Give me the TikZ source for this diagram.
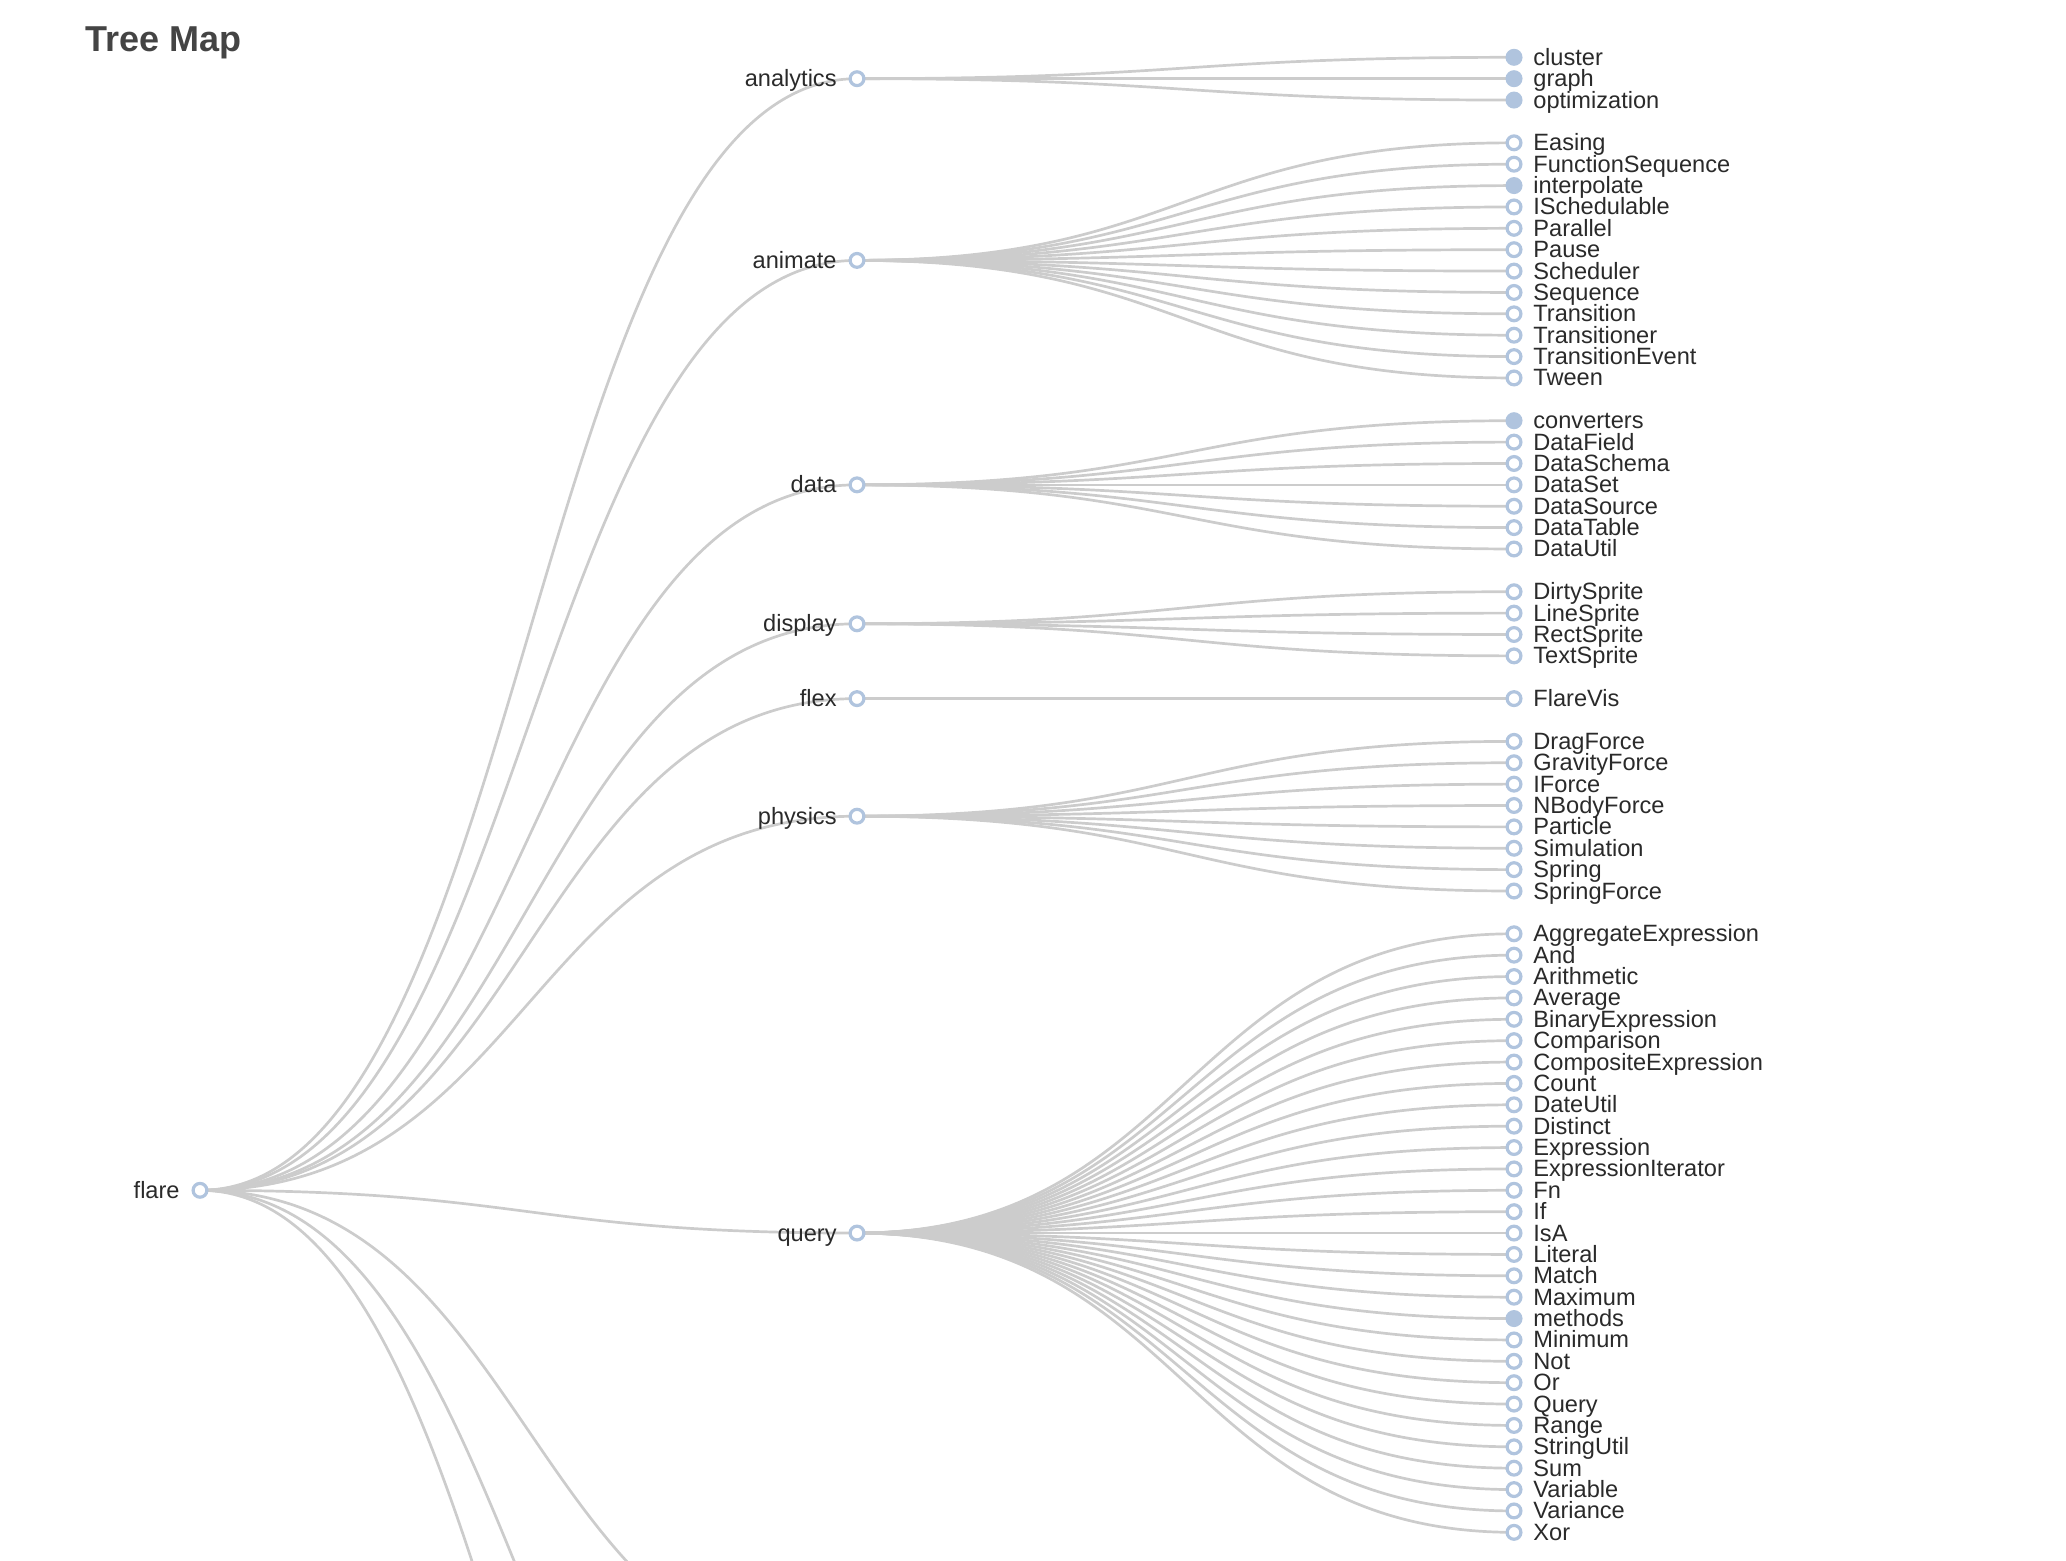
\documentclass[tikz,border=0pt]{standalone}
\usepackage{fontspec}
\setmainfont{Liberation Sans}
\usetikzlibrary{backgrounds}
\definecolor{linkgray}{HTML}{CCCCCC}
\definecolor{steel}{HTML}{B0C4DE}
\definecolor{labelgray}{HTML}{2A2A2A}
\definecolor{titlegray}{HTML}{444444}
\newcommand{\slotY}[1]{57.3+#1*21.377}
\newcommand{\leaflist}{%
  analytics/cluster/0/shut, analytics/graph/1/shut, analytics/optimization/2/shut,
  animate/Easing/4/dot, animate/FunctionSequence/5/dot, animate/interpolate/6/shut,
  animate/ISchedulable/7/dot, animate/Parallel/8/dot, animate/Pause/9/dot,
  animate/Scheduler/10/dot, animate/Sequence/11/dot, animate/Transition/12/dot,
  animate/Transitioner/13/dot, animate/TransitionEvent/14/dot, animate/Tween/15/dot,
  data/converters/17/shut, data/DataField/18/dot, data/DataSchema/19/dot,
  data/DataSet/20/dot, data/DataSource/21/dot, data/DataTable/22/dot, data/DataUtil/23/dot,
  display/DirtySprite/25/dot, display/LineSprite/26/dot, display/RectSprite/27/dot,
  display/TextSprite/28/dot,
  flex/FlareVis/30/dot,
  physics/DragForce/32/dot, physics/GravityForce/33/dot, physics/IForce/34/dot,
  physics/NBodyForce/35/dot, physics/Particle/36/dot, physics/Simulation/37/dot,
  physics/Spring/38/dot, physics/SpringForce/39/dot,
  query/AggregateExpression/41/dot, query/And/42/dot, query/Arithmetic/43/dot,
  query/Average/44/dot, query/BinaryExpression/45/dot, query/Comparison/46/dot,
  query/CompositeExpression/47/dot, query/Count/48/dot, query/DateUtil/49/dot,
  query/Distinct/50/dot, query/Expression/51/dot, query/ExpressionIterator/52/dot,
  query/Fn/53/dot, query/If/54/dot, query/IsA/55/dot, query/Literal/56/dot,
  query/Match/57/dot, query/Maximum/58/dot, query/methods/59/shut,
  query/Minimum/60/dot, query/Not/61/dot, query/Or/62/dot, query/Query/63/dot,
  query/Range/64/dot, query/StringUtil/65/dot, query/Sum/66/dot,
  query/Variable/67/dot, query/Variance/68/dot, query/Xor/69/dot}

\begin{document}
\begin{tikzpicture}[
  x=0.5pt, y=-0.5pt,
  font=\fontsize{11.8}{13}\selectfont,
  dot/.style={circle, draw=steel, line width=1.6pt, fill=white,
              inner sep=0pt, minimum size=6.9pt},
  shut/.style={dot, fill=steel},
  link/.style={draw=linkgray, line width=1.35pt},
  leaflab/.style={anchor=base west, text=labelgray, inner sep=0pt},
  innerlab/.style={anchor=base east, text=labelgray, inner sep=0pt}]
\useasboundingbox (0,0) rectangle (2066,1560);
\node[anchor=base west, inner sep=0pt, text=titlegray,
      font=\fontsize{18}{20}\selectfont\bfseries] (title) at (85,51.7) {Tree Map};
% root
\node[dot] (flare) at (200,{\slotY{53}}) {};
\node[innerlab] (flare-lab) at (180,{\slotY{53}+8}) {flare};
% first level
\foreach \n/\k in {analytics/1, animate/9.5, data/20, display/26.5, flex/30,
                   physics/35.5, query/55} {
  \node[dot] (\n) at (857,{\slotY{\k}}) {};
  \node[innerlab] (\n-lab) at (837,{\slotY{\k}+8}) {\n};
}
\foreach \n/\k in {scale/75.5, util/91, vis/105}
  \coordinate (\n) at (857,{\slotY{\k}});
% leaves
\foreach \p/\n/\k/\s in \leaflist {
  \node[\s] (l-\n) at (1514,{\slotY{\k}}) {};
  \node[leaflab] (l-\n-lab) at (1533,{\slotY{\k}+8}) {\n};
}
\begin{pgfonlayer}{background}
\begin{scope}
\clip (0,0) rectangle (2066,1560);
\foreach \n in {analytics, animate, data, display, flex, physics, query,
                scale, util, vis}
  \draw[link] (flare.center) .. controls +(328.5,0) and +(-328.5,0) .. (\n.center);
\foreach \p/\n/\k/\s in \leaflist
  \draw[link] (\p.center) .. controls +(328.5,0) and +(-328.5,0) .. (l-\n.center);
\end{scope}
\end{pgfonlayer}
\end{tikzpicture}
\end{document}
